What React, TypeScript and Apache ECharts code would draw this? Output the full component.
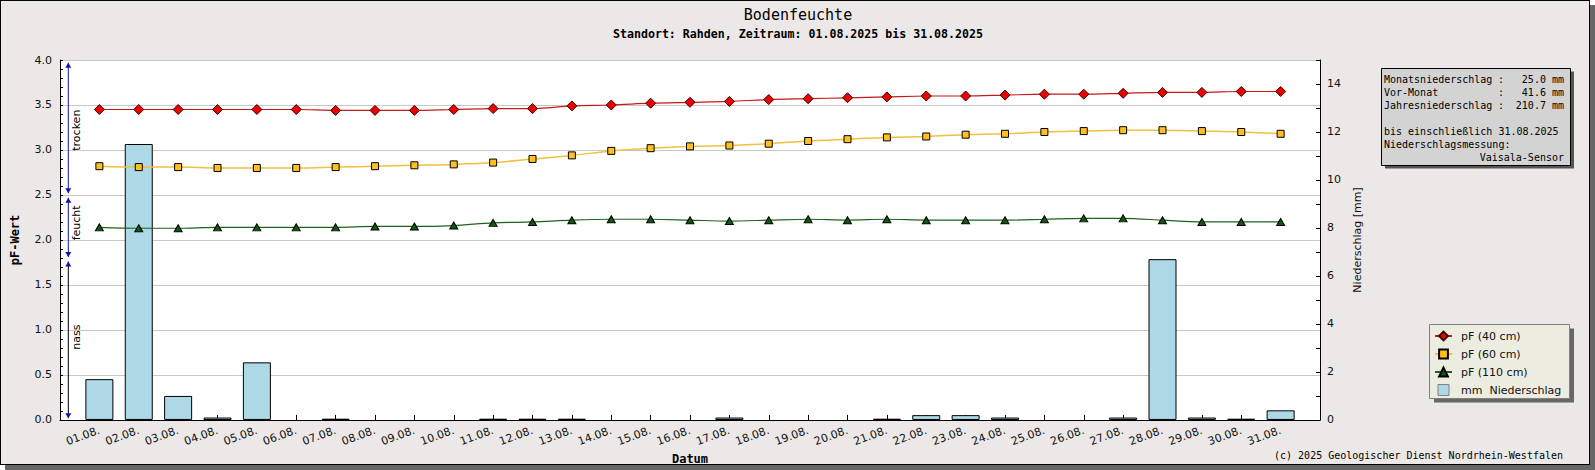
import React, { useEffect, useRef } from "react";
import * as echarts from "echarts";

const days = [
  "01.08.", "02.08.", "03.08.", "04.08.", "05.08.", "06.08.", "07.08.", "08.08.",
  "09.08.", "10.08.", "11.08.", "12.08.", "13.08.", "14.08.", "15.08.", "16.08.",
  "17.08.", "18.08.", "19.08.", "20.08.", "21.08.", "22.08.", "23.08.", "24.08.",
  "25.08.", "26.08.", "27.08.", "28.08.", "29.08.", "30.08.", "31.08.",
];

const pf40 = [
  3.45, 3.45, 3.45, 3.45, 3.45, 3.45, 3.44, 3.44, 3.44, 3.45, 3.46, 3.46, 3.49, 3.5, 3.52, 3.53,
  3.54, 3.56, 3.57, 3.58, 3.59, 3.6, 3.6, 3.61, 3.62, 3.62, 3.63, 3.64, 3.64, 3.65, 3.65,
];
const pf60 = [
  2.82, 2.81, 2.81, 2.8, 2.8, 2.8, 2.81, 2.82, 2.83, 2.84, 2.86, 2.9, 2.94, 2.99, 3.02, 3.04,
  3.05, 3.07, 3.1, 3.12, 3.14, 3.15, 3.17, 3.18, 3.2, 3.21, 3.22, 3.22, 3.21, 3.2, 3.18,
];
const pf110 = [
  2.14, 2.13, 2.13, 2.14, 2.14, 2.14, 2.14, 2.15, 2.15, 2.16, 2.19, 2.2, 2.22, 2.23, 2.23, 2.22,
  2.21, 2.22, 2.23, 2.22, 2.23, 2.22, 2.22, 2.22, 2.23, 2.24, 2.24, 2.22, 2.2, 2.2, 2.2,
];
const rain = [
  1.7, 11.5, 1.0, 0.1, 2.4, 0, 0.05, 0, 0, 0, 0.05, 0.05, 0.05, 0, 0, 0,
  0.1, 0, 0, 0, 0.05, 0.2, 0.2, 0.1, 0, 0, 0.1, 6.7, 0.1, 0.05, 0.4,
];

const seriesNames = ["pF (40 cm)", "pF (60 cm)", "pF (110 cm)", "mm  Niederschlag"];

// moisture ranges on the pF axis: label, upper tip, lower tip, label centre
const rangeLabels = ["trocken", "feucht", "nass"];
const rangeTop = [3.97, 2.47, 1.76];
const rangeBottom = [2.52, 1.81, 0.02];
const rangeLabelAt = [3.22, 2.19, 0.92];

const infoLabels = ["Monatsniederschlag", "Vor-Monat", "Jahresniederschlag"];
const infoValues = ["25.0 mm", "41.6 mm", "210.7 mm"];
const infoNotes = ["bis einschließlich 31.08.2025", "Niederschlagsmessung:"];
const sensorText = "Vaisala-Sensor";

const MONO = "'DejaVu Sans Mono', monospace";
const SANS = "'DejaVu Sans', sans-serif";
const BLUE = "#1414a8";

function buildOption(): any {
  const graphic: any[] = [
    {
      type: "text",
      x: 798,
      y: 14.5,
      style: { text: "Bodenfeuchte", font: `15px ${MONO}`, fill: "#000", align: "center", verticalAlign: "middle" },
    },
    {
      type: "text",
      x: 798,
      y: 33.7,
      style: {
        text: "Standort: Rahden, Zeitraum: 01.08.2025 bis 31.08.2025",
        font: `bold 11.6px ${MONO}`,
        fill: "#000",
        align: "center",
        verticalAlign: "middle",
      },
    },
    // info box
    { type: "rect", z: 2, shape: { x: 1385, y: 71.5, width: 189, height: 97 }, style: { fill: "#555" } },
    {
      type: "rect",
      z: 2,
      shape: { x: 1381.5, y: 68.5, width: 189, height: 97 },
      style: { fill: "#d3d3d3", stroke: "#000", lineWidth: 1 },
    },
    {
      type: "text",
      x: 1563,
      y: 455,
      style: {
        text: "(c) 2025 Geologischer Dienst Nordrhein-Westfalen",
        font: `10px ${MONO}`,
        fill: "#000",
        align: "right",
        verticalAlign: "middle",
      },
    },
    // legend box
    { type: "rect", z: 2, shape: { x: 1434, y: 328.5, width: 140, height: 74 }, style: { fill: "#676767" } },
    {
      type: "rect",
      z: 2,
      shape: { x: 1429.5, y: 324.5, width: 140, height: 74 },
      style: { fill: "#ecece0", stroke: "#808080", lineWidth: 1 },
    },
  ];
  infoLabels.forEach((l, i) => {
    const y = 79.5 + i * 13;
    graphic.push(
      { type: "text", z: 3, x: 1384, y, style: { text: l, font: `10px ${MONO}`, fill: "#000", verticalAlign: "middle" } },
      { type: "text", z: 3, x: 1498, y, style: { text: ":", font: `10px ${MONO}`, fill: "#000", verticalAlign: "middle" } },
      {
        type: "text",
        z: 3,
        x: 1564,
        y,
        style: { text: infoValues[i], font: `10px ${MONO}`, fill: "#000", align: "right", verticalAlign: "middle" },
      }
    );
  });
  infoNotes.forEach((l, i) => {
    graphic.push({
      type: "text",
      z: 3,
      x: 1384,
      y: 131 + i * 13,
      style: { text: l, font: `10px ${MONO}`, fill: "#000", verticalAlign: "middle" },
    });
  });
  graphic.push({
    type: "text",
    z: 3,
    x: 1564,
    y: 157,
    style: { text: sensorText, font: `10px ${MONO}`, fill: "#000", align: "right", verticalAlign: "middle" },
  });

  const xy = (arr: number[]) => arr.map((v, i) => [i + 1, v]);
  const xyBars = (arr: number[]) => arr.map((v, i) => (v > 0 ? [i + 1, v] : [i + 1, null]));

  return {
    animation: false,
    backgroundColor: "transparent",
    grid: { left: 60, top: 60, width: 1260, height: 360, show: true, backgroundColor: "#fff", borderWidth: 0 },
    xAxis: {
      type: "value",
      min: 0,
      max: 32,
      interval: 1,
      name: "Datum",
      nameLocation: "middle",
      nameGap: 31,
      nameTextStyle: { fontFamily: MONO, fontWeight: "bold", fontSize: 12, color: "#000" },
      axisLine: { lineStyle: { color: "#000", width: 1 } },
      axisTick: { inside: true, length: 5, lineStyle: { color: "#000" } },
      splitLine: { show: false },
      axisLabel: {
        rotate: 20,
        margin: 10,
        fontFamily: SANS,
        fontSize: 11,
        color: "#111",
        formatter: (v: number) => (v >= 1 && v <= days.length ? days[v - 1] : ""),
      },
    },
    yAxis: [
      {
        type: "value",
        min: 0,
        max: 4,
        interval: 0.5,
        name: "pF-Wert",
        nameLocation: "middle",
        nameRotate: 90,
        nameGap: 39,
        nameTextStyle: { fontFamily: MONO, fontWeight: "bold", fontSize: 12, color: "#000" },
        axisLine: { show: true, lineStyle: { color: "#000", width: 1 } },
        axisTick: { show: true, inside: true, length: 3, lineStyle: { color: "#000" } },
        minorTick: { show: true, splitNumber: 5, length: 3, lineStyle: { color: "#000" } },
        splitLine: { show: true, lineStyle: { color: "#c8c8c8", width: 1 } },
        axisLabel: { fontFamily: SANS, fontSize: 11, color: "#111", margin: 8, formatter: (v: number) => v.toFixed(1) },
      },
      {
        type: "value",
        min: 0,
        max: 15,
        interval: 1,
        position: "right",
        name: "Niederschlag [mm]",
        nameLocation: "middle",
        nameRotate: 90,
        nameGap: 30,
        nameTextStyle: { fontFamily: SANS, fontSize: 11, color: "#111" },
        axisLine: { show: true, lineStyle: { color: "#000", width: 1 } },
        axisTick: { show: true, inside: true, length: 4, lineStyle: { color: "#000" } },
        splitLine: { show: false },
        axisLabel: {
          fontFamily: SANS,
          fontSize: 11,
          color: "#111",
          margin: 7,
          formatter: (v: number) => (v % 2 === 0 ? String(v) : ""),
        },
      },
    ],
    legend: {
      orient: "vertical",
      left: 1434,
      top: 329,
      padding: 0,
      itemWidth: 17,
      itemHeight: 11,
      itemGap: 4,
      z: 5,
      textStyle: { fontFamily: SANS, fontSize: 11, color: "#111", lineHeight: 14, padding: [0, 0, 0, 4] },
      data: [
        { name: seriesNames[0] },
        { name: seriesNames[1] },
        { name: seriesNames[2] },
        { name: seriesNames[3], icon: "path://M0,0H10V10H0Z", itemStyle: { borderColor: "#808080", borderWidth: 1 } },
      ],
    },
    graphic,
    series: [
      {
        name: seriesNames[3],
        type: "bar",
        yAxisIndex: 1,
        z: 2,
        barWidth: 28,
        data: xyBars(rain),
        itemStyle: { color: "#add8e6", borderColor: "#000", borderWidth: 1 },
      },
      {
        name: seriesNames[0],
        type: "line",
        yAxisIndex: 0,
        z: 4,
        smooth: 0.3,
        data: xy(pf40),
        symbol: "diamond",
        symbolSize: 10,
        lineStyle: { color: "#c41a1a", width: 1.2 },
        itemStyle: { color: "#ee0000", borderColor: "#3a0000", borderWidth: 1 },
      },
      {
        name: seriesNames[1],
        type: "line",
        yAxisIndex: 0,
        z: 4,
        smooth: 0.3,
        data: xy(pf60),
        symbol: "rect",
        symbolSize: 7,
        lineStyle: { color: "#f0c040", width: 1.5 },
        itemStyle: { color: "#ffc020", borderColor: "#000", borderWidth: 1 },
      },
      {
        name: seriesNames[2],
        type: "line",
        yAxisIndex: 0,
        z: 4,
        smooth: 0.3,
        data: xy(pf110),
        symbol: "triangle",
        symbolSize: [8, 7],
        lineStyle: { color: "#1f621f", width: 1.2 },
        itemStyle: { color: "#0e5a0e", borderColor: "#000", borderWidth: 1 },
      },
      {
        type: "custom",
        yAxisIndex: 0,
        z: 5,
        clip: false,
        silent: true,
        data: rangeLabels.map((l, i) => [0, rangeTop[i], rangeBottom[i], rangeLabelAt[i], i]),
        renderItem: (params: any, api: any) => {
          const i = api.value(4);
          const top = api.coord([0, api.value(1)]);
          const bot = api.coord([0, api.value(2)]);
          const lab = api.coord([0, api.value(3)]);
          const x = top[0] + 8.3;
          const lineColor = i === 2 ? "#000" : BLUE;
          return {
            type: "group",
            children: [
              {
                type: "line",
                shape: { x1: x, y1: top[1], x2: x, y2: bot[1] },
                style: { stroke: lineColor, lineWidth: 1 },
              },
              {
                type: "polygon",
                shape: { points: [[x, top[1]], [x - 3, top[1] + 5], [x + 3, top[1] + 5]] },
                style: { fill: BLUE },
              },
              {
                type: "polygon",
                shape: { points: [[x, bot[1]], [x - 3, bot[1] - 5], [x + 3, bot[1] - 5]] },
                style: { fill: BLUE },
              },
              {
                type: "text",
                x: x + 8.5,
                y: lab[1],
                rotation: Math.PI / 2,
                style: {
                  text: rangeLabels[i],
                  font: `11px ${SANS}`,
                  fill: "#000",
                  align: "center",
                  verticalAlign: "middle",
                },
              },
            ],
          };
        },
      },
    ],
  };
}

export default function App() {
  const ref = useRef<HTMLDivElement>(null);
  useEffect(() => {
    document.body.style.margin = "0";
    const chart = echarts.init(ref.current!, null, { renderer: "svg" });
    chart.setOption(buildOption());
    return () => chart.dispose();
  }, []);
  return (
    <div style={{ position: "relative", width: 1595, height: 470 }}>
      <div style={{ position: "absolute", left: 5, top: 5, width: 1590, height: 465, background: "#666" }} />
      <div
        style={{
          position: "absolute",
          left: 0,
          top: 0,
          width: 1590,
          height: 465,
          boxSizing: "border-box",
          border: "1px solid #000",
          background: "#ebe8e7",
        }}
      />
      <div ref={ref} style={{ position: "absolute", left: 0, top: 0, width: 1595, height: 470 }} />
    </div>
  );
}
